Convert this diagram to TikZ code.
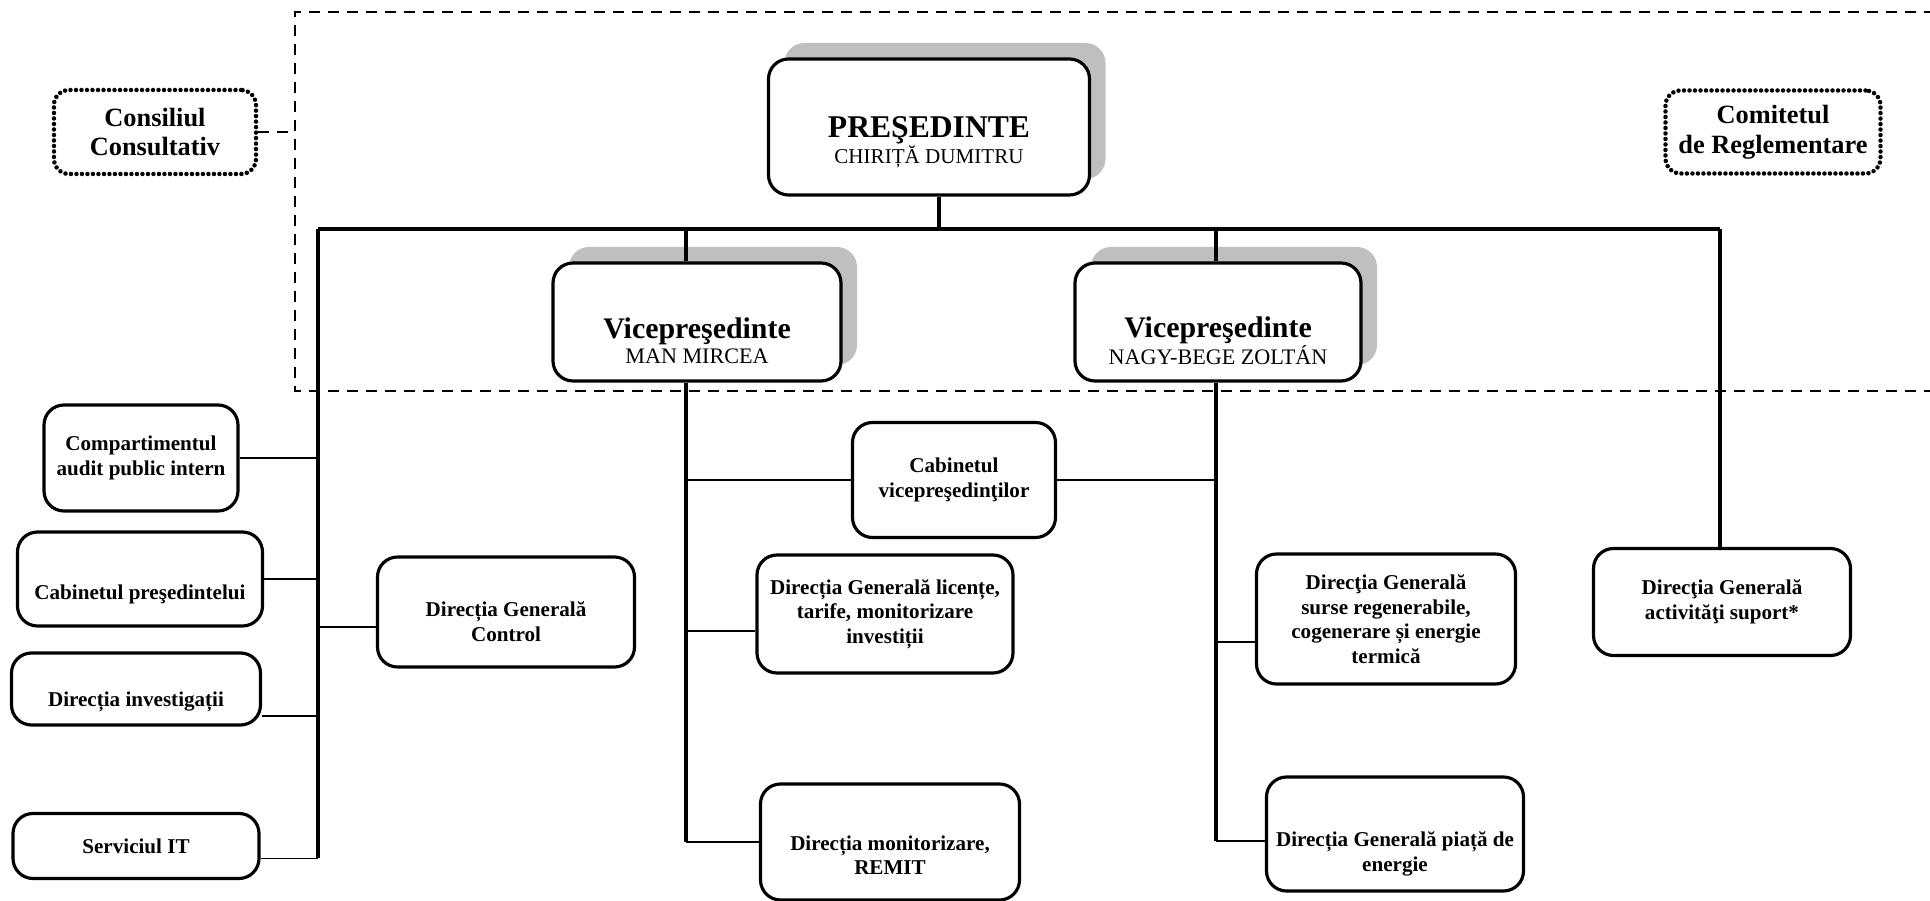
\documentclass[tikz,border=0pt]{standalone}
\usepackage{fontspec}
\setmainfont{Liberation Serif}
\usetikzlibrary{calc,shadows,backgrounds}

% invisible strut that pushes the text lower in its box
\newcommand{\tdown}[1]{\rule{0pt}{#1}}

\begin{document}
\begin{tikzpicture}[x=0.2mm, y=-0.2mm,
  every node/.style={font=\fontsize{12}{14}\selectfont\bfseries},
  box/.style={draw, rectangle, rounded corners=4mm, line width=1.8pt, fill=white, align=center, inner sep=1mm},
  bigbox/.style={box, general shadow={fill=black!25, rounded corners=4mm, shadow xshift=3.2mm, shadow yshift=3.2mm}},
  dotbox/.style={draw, rectangle, rounded corners=3mm, line width=0.9mm, dash pattern=on 0pt off 1.1mm, line cap=round, align=center, font=\fontsize{15}{17}\selectfont\bfseries},
  bus/.style={line width=2.3pt},
  branch/.style={line width=1.1pt},
  frame/.style={line width=0.8pt, dash pattern=on 2.2mm off 1.6mm}]
  \useasboundingbox (0,0) rectangle (1930,901);

  % Top level - dashed frame and side bodies
  \coordinate (fTR) at (1935,12);
  \coordinate (fTL) at (295,12);
  \coordinate (fBL) at (295,391);
  \coordinate (fBR) at (1935,391);
  \draw[frame] (fTR) -- (fTL) -- (fBL) -- (fBR);

  \node[dotbox, minimum width=40.4mm, minimum height=16.8mm] (cons) at (155,132) {Consiliul\\Consultativ};
  \node[dotbox, minimum width=43mm, minimum height=16.6mm] (comit) at (1773,132) {Comitetul\\de Reglementare};
  \draw[frame] (cons.east) -- (cons.east -| fTL);

  % President and vice-presidents
  \node[bigbox, minimum width=64.2mm, minimum height=27.2mm] (pres) at (929,127)
    {\tdown{29pt}{\fontsize{18}{20}\selectfont PREŞEDINTE}\\[1pt]{\mdseries CHIRIȚĂ DUMITRU}};

  \coordinate (busL) at (318,229);
  \coordinate (busR) at (1720,229);
  \coordinate (p0) at (939,229);
  \coordinate (v1) at (686,229);
  \coordinate (v2) at (1216,229);
  \draw[bus] (busL) -- (busR);
  \draw[bus] (p0 |- pres.south) -- (p0);

  \draw[bus] (v1) -- ++(0,40);
  \draw[bus] (v2) -- ++(0,40);
  \node[bigbox, minimum width=57.6mm, minimum height=23.6mm] (vp1) at (697,322)
    {\tdown{33pt}{\fontsize{17}{18}\selectfont Vicepreşedinte}\\{\fontsize{12.6}{14}\selectfont\mdseries MAN MIRCEA}};
  \node[bigbox, minimum width=57.2mm, minimum height=23.6mm] (vp2) at (1218,322)
    {\tdown{33pt}{\fontsize{17}{18}\selectfont Vicepreşedinte}\\{\fontsize{12.6}{14}\selectfont\mdseries NAGY-BEGE ZOLTÁN}};
  \draw[bus] (v1) -- (v1 |- vp1.north);
  \draw[bus] (v2) -- (v2 |- vp2.north);

  % Left side - under the president
  \node[box, minimum width=38.8mm, minimum height=21.2mm] (audit) at (141,458) {Compartimentul\\audit public intern};
  \node[box, minimum width=49mm, minimum height=18.8mm] (cabpres) at (140,579) {\tdown{25.5pt}Cabinetul preşedintelui};
  \node[box, minimum width=49.8mm, minimum height=14.4mm] (invest) at (136,689) {\tdown{23.5pt}Direcția investigații};
  \node[box, minimum width=49.2mm, minimum height=13mm] (it) at (136,846) {Serviciul IT};
  \node[box, minimum width=51.4mm, minimum height=22mm] (dgc) at (506,612) {\tdown{19.5pt}Direcția Generală\\Control};

  \draw[bus] (busL) -- ([yshift=-2.5mm]it.east -| busL);
  \draw[branch] (audit.east) -- (audit.east -| busL);
  \draw[branch] (cabpres.east) -- (cabpres.east -| busL);
  \draw[branch] ([yshift=-5.4mm]invest.east) -- ([yshift=-5.4mm]invest.east -| busL);
  \draw[branch] ([yshift=-2.5mm]it.east) -- ([yshift=-2.5mm]it.east -| busL);
  \draw[branch] ([yshift=-3mm]dgc.west) -- ([yshift=-3mm]dgc.west -| busL);

  % Middle - first vice-president
  \node[box, minimum width=40.6mm, minimum height=23mm] (cabvp) at (954,480) {Cabinetul\\vicepreşedinţilor};
  \node[box, minimum width=51.2mm, minimum height=23.6mm] (lic) at (885,614) {Direcția Generală licențe,\\tarife, monitorizare\\investiții};
  \node[box, minimum width=51.8mm, minimum height=23.2mm] (rem) at (890,842) {\tdown{23.5pt}Direcția monitorizare,\\REMIT};

  \draw[bus] (v1 |- vp1.south) -- (v1 |- rem.west);
  \draw[branch] (rem.west) -- (v1 |- rem.west);
  \draw[branch] ([yshift=-3.4mm]lic.west) -- ([yshift=-3.4mm]lic.west -| v1);
  \draw[branch] (cabvp.west) -- (cabvp.west -| v1);
  \draw[branch] (cabvp.east) -- (cabvp.east -| v2);

  % Right - second vice-president
  \node[box, minimum width=51.8mm, minimum height=26mm] (surse) at (1386,619) {Direcţia Generală\\surse regenerabile,\\cogenerare și energie\\termică};
  \node[box, minimum width=51.4mm, minimum height=22.8mm] (piata) at (1395,834) {\tdown{31pt}Direcția Generală piață de\\energie};
  \node[box, minimum width=51.4mm, minimum height=21.4mm] (sup) at (1722,602) {Direcţia Generală\\activităţi suport*};

  \draw[bus] (v2 |- vp2.south) -- ([yshift=-1.4mm]v2 |- piata.west);
  \draw[branch] ([yshift=-1.4mm]piata.west) -- ([yshift=-1.4mm]piata.west -| v2);
  \draw[branch] ([yshift=-4.6mm]surse.west) -- ([yshift=-4.6mm]surse.west -| v2);
  \draw[bus] (busR) -- (busR |- sup.north);
\end{tikzpicture}
\end{document}
